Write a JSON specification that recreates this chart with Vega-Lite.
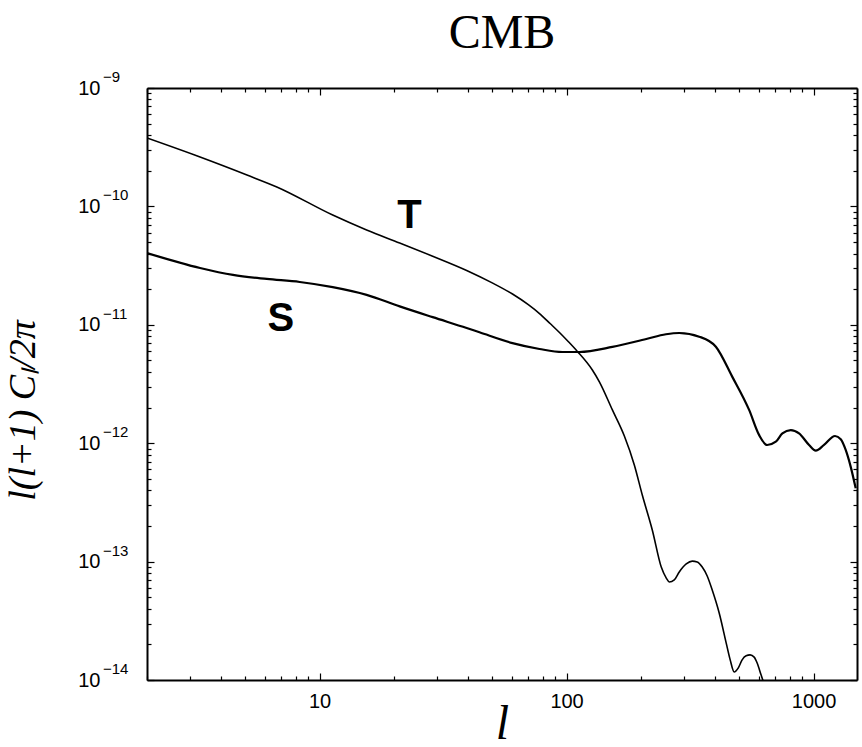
{
  "$schema": "https://vega.github.io/schema/vega-lite/v6.json",
  "autosize": "none",
  "width": 710,
  "height": 592,
  "padding": {"left": 147, "top": 88, "right": 5, "bottom": 67},
  "background": "white",
  "config": {
    "view": {"stroke": null},
    "axis": {"grid": false, "domainColor": "black", "domainWidth": 2, "tickColor": "black", "tickWidth": 1.2, "labelColor": "black", "titleColor": "black", "labelOverlap": false, "labelBound": false, "labelFlush": false}
  },
  "title": {"text": "CMB", "font": "Liberation Serif", "fontSize": 48, "fontWeight": "normal", "color": "black", "anchor": "middle", "offset": 12},
  "datasets": {
    "curves": [
      {"series": "T", "l": 2, "v": 3.78e-10},
      {"series": "T", "l": 3.28, "v": 2.61e-10},
      {"series": "T", "l": 5.08, "v": 1.84e-10},
      {"series": "T", "l": 6.71, "v": 1.46e-10},
      {"series": "T", "l": 11.3, "v": 8.45e-11},
      {"series": "T", "l": 15.5, "v": 6.32e-11},
      {"series": "T", "l": 21.1, "v": 4.91e-11},
      {"series": "T", "l": 28.7, "v": 3.80e-11},
      {"series": "T", "l": 39.4, "v": 2.88e-11},
      {"series": "T", "l": 50.0, "v": 2.26e-11},
      {"series": "T", "l": 60.4, "v": 1.82e-11},
      {"series": "T", "l": 70.0, "v": 1.48e-11},
      {"series": "T", "l": 77.7, "v": 1.245e-11},
      {"series": "T", "l": 86.0, "v": 1.02e-11},
      {"series": "T", "l": 93.6, "v": 8.61e-12},
      {"series": "T", "l": 102, "v": 7.16e-12},
      {"series": "T", "l": 110.6, "v": 5.96e-12},
      {"series": "T", "l": 127.2, "v": 4.15e-12},
      {"series": "T", "l": 135.8, "v": 3.30e-12},
      {"series": "T", "l": 153.3, "v": 1.91e-12},
      {"series": "T", "l": 171.4, "v": 1.15e-12},
      {"series": "T", "l": 188.1, "v": 6.55e-13},
      {"series": "T", "l": 202.6, "v": 3.65e-13},
      {"series": "T", "l": 222.4, "v": 1.85e-13},
      {"series": "T", "l": 241.8, "v": 8.99e-14},
      {"series": "T", "l": 253.4, "v": 7.26e-14},
      {"series": "T", "l": 260.6, "v": 6.73e-14},
      {"series": "T", "l": 273.0, "v": 7.00e-14},
      {"series": "T", "l": 286, "v": 8.17e-14},
      {"series": "T", "l": 305.2, "v": 9.55e-14},
      {"series": "T", "l": 322.8, "v": 1.01e-13},
      {"series": "T", "l": 338.1, "v": 9.93e-14},
      {"series": "T", "l": 354.3, "v": 8.99e-14},
      {"series": "T", "l": 371.1, "v": 7.55e-14},
      {"series": "T", "l": 388.9, "v": 5.75e-14},
      {"series": "T", "l": 415.0, "v": 3.68e-14},
      {"series": "T", "l": 443.1, "v": 2.05e-14},
      {"series": "T", "l": 459.8, "v": 1.48e-14},
      {"series": "T", "l": 477.3, "v": 1.17e-14},
      {"series": "T", "l": 495.3, "v": 1.26e-14},
      {"series": "T", "l": 514.0, "v": 1.48e-14},
      {"series": "T", "l": 533.5, "v": 1.60e-14},
      {"series": "T", "l": 553.7, "v": 1.63e-14},
      {"series": "T", "l": 575.0, "v": 1.56e-14},
      {"series": "T", "l": 591.3, "v": 1.39e-14},
      {"series": "T", "l": 613.6, "v": 1.10e-14},
      {"series": "T", "l": 631, "v": 9.25e-15},
      {"series": "S", "l": 2, "v": 4.04e-11},
      {"series": "S", "l": 3.28, "v": 3.02e-11},
      {"series": "S", "l": 4.46, "v": 2.64e-11},
      {"series": "S", "l": 6.11, "v": 2.44e-11},
      {"series": "S", "l": 8.31, "v": 2.30e-11},
      {"series": "S", "l": 11.3, "v": 2.08e-11},
      {"series": "S", "l": 15.5, "v": 1.79e-11},
      {"series": "S", "l": 21.1, "v": 1.43e-11},
      {"series": "S", "l": 28.7, "v": 1.16e-11},
      {"series": "S", "l": 39.4, "v": 9.40e-12},
      {"series": "S", "l": 44.4, "v": 8.65e-12},
      {"series": "S", "l": 60.4, "v": 7.01e-12},
      {"series": "S", "l": 77.7, "v": 6.25e-12},
      {"series": "S", "l": 96.2, "v": 5.89e-12},
      {"series": "S", "l": 112.7, "v": 5.89e-12},
      {"series": "S", "l": 153.3, "v": 6.50e-12},
      {"series": "S", "l": 210.3, "v": 7.59e-12},
      {"series": "S", "l": 252.6, "v": 8.32e-12},
      {"series": "S", "l": 286, "v": 8.53e-12},
      {"series": "S", "l": 344.4, "v": 7.94e-12},
      {"series": "S", "l": 402.3, "v": 6.53e-12},
      {"series": "S", "l": 468.5, "v": 3.65e-12},
      {"series": "S", "l": 548.6, "v": 1.91e-12},
      {"series": "S", "l": 602.4, "v": 1.17e-12},
      {"series": "S", "l": 648.8, "v": 9.66e-13},
      {"series": "S", "l": 703.6, "v": 1.03e-12},
      {"series": "S", "l": 748.2, "v": 1.21e-12},
      {"series": "S", "l": 809.1, "v": 1.29e-12},
      {"series": "S", "l": 874.0, "v": 1.21e-12},
      {"series": "S", "l": 959.4, "v": 9.66e-13},
      {"series": "S", "l": 1021, "v": 8.65e-13},
      {"series": "S", "l": 1103, "v": 9.66e-13},
      {"series": "S", "l": 1222, "v": 1.15e-12},
      {"series": "S", "l": 1289, "v": 1.08e-12},
      {"series": "S", "l": 1350, "v": 8.77e-13},
      {"series": "S", "l": 1414, "v": 6.34e-13},
      {"series": "S", "l": 1482, "v": 4.16e-13}
    ],
    "labels": [
      {"name": "T", "l": 23.1, "v": 8.3e-11},
      {"name": "S", "l": 6.97, "v": 1.12e-11}
    ],
    "exponents": [
      {"v": 1e-9, "e": "−9"},
      {"v": 1e-10, "e": "−10"},
      {"v": 1e-11, "e": "−11"},
      {"v": 1e-12, "e": "−12"},
      {"v": 1e-13, "e": "−13"},
      {"v": 1e-14, "e": "−14"}
    ]
  },
  "resolve": {"axis": {"x": "independent", "y": "independent"}},
  "layer": [
    {
      "data": {"name": "curves"},
      "transform": [{"filter": "datum.series === 'T'"}],
      "mark": {"type": "line", "interpolate": "monotone", "color": "black", "strokeWidth": 1.6, "clip": true},
      "encoding": {
        "x": {
          "field": "l", "type": "quantitative",
          "scale": {"type": "log", "domain": [2, 1500], "nice": false},
          "axis": {
            "orient": "bottom",
            "values": [2,3,4,5,6,7,8,9,10,20,30,40,50,60,70,80,90,100,200,300,400,500,600,700,800,900,1000],
            "labelExpr": "abs(log(datum.value)/LN10 - round(log(datum.value)/LN10)) < 0.001 ? format(datum.value, 'd') : ''",
            "labelFont": "Liberation Sans", "labelFontSize": 20, "labelPadding": 18,
            "tickSize": {"condition": {"test": "abs(log(datum.value)/LN10 - round(log(datum.value)/LN10)) < 0.001", "value": -7}, "value": -4},
            "title": "l", "titleFont": "Liberation Serif", "titleFontStyle": "italic", "titleFontWeight": "normal", "titleFontSize": 48,
            "titleBaseline": "alphabetic", "titleY": 58
          }
        },
        "y": {
          "field": "v", "type": "quantitative",
          "scale": {"type": "log", "domain": [1e-14, 1e-9], "nice": false},
          "axis": {
            "orient": "left",
            "values": [1e-14,2e-14,3e-14,4e-14,5e-14,6e-14,7e-14,8e-14,9e-14,1e-13,2e-13,3e-13,4e-13,5e-13,6e-13,7e-13,8e-13,9e-13,1e-12,2e-12,3e-12,4e-12,5e-12,6e-12,7e-12,8e-12,9e-12,1e-11,2e-11,3e-11,4e-11,5e-11,6e-11,7e-11,8e-11,9e-11,1e-10,2e-10,3e-10,4e-10,5e-10,6e-10,7e-10,8e-10,9e-10,1e-9],
            "labelExpr": "abs(log(datum.value)/LN10 - round(log(datum.value)/LN10)) < 0.001 ? '10' : ''",
            "labelFont": "Liberation Sans", "labelFontSize": 20, "labelPadding": 54,
            "tickSize": {"condition": {"test": "abs(log(datum.value)/LN10 - round(log(datum.value)/LN10)) < 0.001", "value": -7}, "value": -4},
            "title": "l(l+1) Cₗ/2π", "titleFont": "Liberation Serif", "titleFontStyle": "italic", "titleFontWeight": "normal", "titleFontSize": 38,
            "titleAngle": 270, "titleBaseline": "middle", "titleAlign": "center", "titleX": -124, "titleY": 322
          }
        }
      }
    },
    {
      "data": {"name": "curves"},
      "transform": [{"filter": "datum.series === 'S'"}],
      "mark": {"type": "line", "interpolate": "monotone", "color": "black", "strokeWidth": 2.2, "clip": true},
      "encoding": {
        "x": {
          "field": "l", "type": "quantitative",
          "scale": {"type": "log", "domain": [2, 1500], "nice": false},
          "axis": {
            "orient": "top", "labels": false, "title": null,
            "values": [2,3,4,5,6,7,8,9,10,20,30,40,50,60,70,80,90,100,200,300,400,500,600,700,800,900,1000],
            "tickSize": {"condition": {"test": "abs(log(datum.value)/LN10 - round(log(datum.value)/LN10)) < 0.001", "value": -7}, "value": -4}
          }
        },
        "y": {
          "field": "v", "type": "quantitative",
          "scale": {"type": "log", "domain": [1e-14, 1e-9], "nice": false},
          "axis": {
            "orient": "right", "labels": false, "title": null,
            "values": [1e-14,2e-14,3e-14,4e-14,5e-14,6e-14,7e-14,8e-14,9e-14,1e-13,2e-13,3e-13,4e-13,5e-13,6e-13,7e-13,8e-13,9e-13,1e-12,2e-12,3e-12,4e-12,5e-12,6e-12,7e-12,8e-12,9e-12,1e-11,2e-11,3e-11,4e-11,5e-11,6e-11,7e-11,8e-11,9e-11,1e-10,2e-10,3e-10,4e-10,5e-10,6e-10,7e-10,8e-10,9e-10,1e-9],
            "tickSize": {"condition": {"test": "abs(log(datum.value)/LN10 - round(log(datum.value)/LN10)) < 0.001", "value": -7}, "value": -4}
          }
        }
      }
    },
    {
      "data": {"name": "labels"},
      "mark": {"type": "text", "font": "Liberation Sans", "fontSize": 40, "fontWeight": "bold", "color": "black", "align": "center", "baseline": "middle"},
      "encoding": {
        "x": {"field": "l", "type": "quantitative", "scale": {"type": "log", "domain": [2, 1500], "nice": false}, "axis": null},
        "y": {"field": "v", "type": "quantitative", "scale": {"type": "log", "domain": [1e-14, 1e-9], "nice": false}, "axis": null},
        "text": {"field": "name"}
      }
    },
    {
      "data": {"name": "exponents"},
      "mark": {"type": "text", "font": "Liberation Sans", "fontSize": 15, "color": "black", "align": "left", "baseline": "middle", "dx": -44, "dy": -11},
      "encoding": {
        "x": {"datum": 2, "type": "quantitative", "scale": {"type": "log", "domain": [2, 1500], "nice": false}, "axis": null},
        "y": {"field": "v", "type": "quantitative", "scale": {"type": "log", "domain": [1e-14, 1e-9], "nice": false}, "axis": null},
        "text": {"field": "e"}
      }
    }
  ]
}
